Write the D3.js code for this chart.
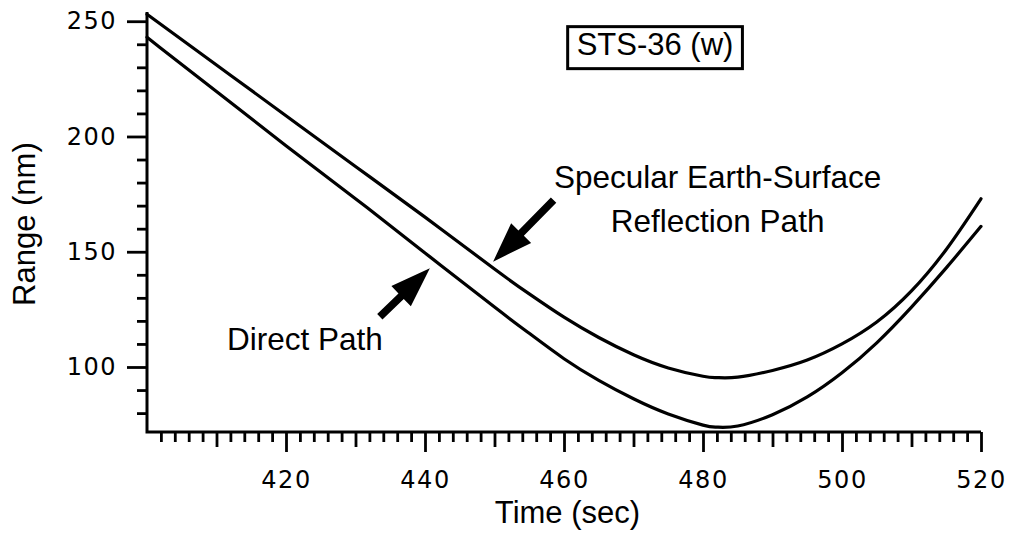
<!DOCTYPE html>
<html>
<head>
<meta charset="utf-8">
<script src="https://cdn.jsdelivr.net/npm/d3@7"></script>
<style>
  html, body { margin: 0; padding: 0; background: #fff; }
  svg { display: block; }
</style>
</head>
<body>
<svg id="chart" width="1013" height="535"></svg>
<script>
// ---- data ----
const times = [400, 410, 420, 430, 440, 450, 455, 460, 465, 470, 475, 480, 482, 485, 490, 495, 500, 505, 510, 515, 520];
const reflectionPath = [253, 231, 209, 187, 165, 142.5, 131.7, 121.6, 112.8, 105.3, 99.6, 96, 95.4, 95.6, 98.5, 103, 110, 119.5, 133, 151, 173];
const directPath = [243, 219.5, 196, 173, 149.5, 126, 114.6, 103.6, 94.2, 86.2, 79.6, 74.8, 73.9, 74.4, 79.3, 87, 97.5, 110.5, 126, 143, 161];

const xMajorTicks = [420, 440, 460, 480, 500, 520];
const xMidTicks = [410, 430, 450, 470, 490, 510];
const yMajorTicks = [100, 150, 200, 250];
const yMinorTicks = [80, 90, 110, 120, 130, 140, 160, 170, 180, 190, 210, 220, 230, 240];

const xTitle = "Time (sec)";
const yTitle = "Range (nm)";
const boxLabel = "STS-36 (w)";
const reflectionLabel = ["Specular Earth-Surface", "Reflection Path"];
const directLabel = "Direct Path";

// arrows in data coordinates: [tail, tip]
const reflectionArrow = [[458.5, 172.4], [449.8, 145.7]];
const directArrow = [[433.5, 121.8], [440.7, 142.8]];

// ---- drawing ----
const svg = d3.select("#chart");
const x = d3.scaleLinear().domain([400, 520]).range([147, 981]);
const y = d3.scaleLinear().domain([71.8, 254]).range([432, 12]);

const digitFont = "'DejaVu Sans', sans-serif";
const textFont = "'Liberation Sans', Arial, Helvetica, sans-serif";

// minor x ticks every 2 s
const xMinor = d3.range(402, 520, 2).filter(d => d % 10 !== 0);
const gx = svg.append("g").attr("transform", `translate(0,${y(71.8)})`);
gx.append("g").call(d3.axisBottom(x).tickValues(xMinor).tickSize(10).tickSizeOuter(0).tickFormat(""));
gx.append("g").call(d3.axisBottom(x).tickValues(xMidTicks).tickSize(15).tickSizeOuter(0).tickFormat(""));
gx.append("g").call(d3.axisBottom(x).tickValues(xMajorTicks).tickSize(20).tickSizeOuter(0).tickPadding(19).tickFormat(d3.format("d")));
gx.selectAll(".domain").remove();
gx.selectAll(".tick line").attr("stroke", "#000").attr("stroke-width", 2.8);
gx.selectAll(".tick text")
  .attr("font-family", digitFont).attr("font-size", 24).attr("fill", "#000")
  .attr("letter-spacing", "1.5px");

const gy = svg.append("g").attr("transform", `translate(${x(400)},0)`);
gy.append("g").call(d3.axisLeft(y).tickValues(yMinorTicks).tickSize(10).tickSizeOuter(0).tickFormat(""));
gy.append("g").call(d3.axisLeft(y).tickValues(yMajorTicks).tickSize(20).tickSizeOuter(0).tickPadding(10).tickFormat(d3.format("d")));
gy.selectAll(".domain").remove();
gy.selectAll(".tick line").attr("stroke", "#000").attr("stroke-width", 2.8);
gy.selectAll(".tick text")
  .attr("font-family", digitFont).attr("font-size", 24).attr("fill", "#000")
  .attr("letter-spacing", "1.5px");

// axis lines
svg.append("path")
  .attr("d", `M${x(400)},${y(254)}V${y(71.8)}H${x(520)}`)
  .attr("fill", "none").attr("stroke", "#000").attr("stroke-width", 3);

// curves
const line = d3.line().x((d, i) => x(times[i])).y(d => y(d)).curve(d3.curveNatural);
[reflectionPath, directPath].forEach(series => {
  svg.append("path").attr("d", line(series))
    .attr("fill", "none").attr("stroke", "#000").attr("stroke-width", 3.2)
    .attr("stroke-linejoin", "round").attr("stroke-linecap", "round");
});

// axis titles
svg.append("text").text(xTitle)
  .attr("x", x(460.5)).attr("y", 523)
  .attr("text-anchor", "middle").attr("font-family", textFont).attr("font-size", 31).attr("fill", "#000");
svg.append("text").text(yTitle)
  .attr("transform", `translate(35,${y(162)}) rotate(-90)`)
  .attr("text-anchor", "middle").attr("font-family", textFont).attr("font-size", 31).attr("fill", "#000");

// boxed label
const boxG = svg.append("g");
const bt = boxG.append("text").text(boxLabel)
  .attr("x", x(473.1)).attr("y", y(235.5))
  .attr("text-anchor", "middle").attr("font-family", textFont).attr("font-size", 31).attr("fill", "#000");
const bb = bt.node().getBBox();
boxG.insert("rect", "text")
  .attr("x", bb.x - 9).attr("y", bb.y).attr("width", bb.width + 18).attr("height", bb.height + 7)
  .attr("fill", "#fff").attr("stroke", "#000").attr("stroke-width", 3);

// annotation labels
svg.append("text").text(reflectionLabel[0])
  .attr("x", x(482.1)).attr("y", y(177.6))
  .attr("text-anchor", "middle").attr("font-family", textFont).attr("font-size", 31.5).attr("fill", "#000");
svg.append("text").text(reflectionLabel[1])
  .attr("x", x(482.1)).attr("y", y(158.6))
  .attr("text-anchor", "middle").attr("font-family", textFont).attr("font-size", 31.5).attr("fill", "#000");
svg.append("text").text(directLabel)
  .attr("x", x(411.5)).attr("y", y(107.4))
  .attr("text-anchor", "start").attr("font-family", textFont).attr("font-size", 31.5).attr("fill", "#000");

// arrows
function arrow(pts) {
  const [t0, t1] = pts;
  const x0 = x(t0[0]), y0 = y(t0[1]), x1 = x(t1[0]), y1 = y(t1[1]);
  const dx = x1 - x0, dy = y1 - y0, L = Math.hypot(dx, dy);
  const ux = dx / L, uy = dy / L, nx = -uy, ny = ux;
  const headL = 40, headW = 14, shaftW = 3.8;
  const bx = x1 - ux * headL, by = y1 - uy * headL;
  const p = [
    [x0 + nx * shaftW, y0 + ny * shaftW],
    [bx + nx * shaftW, by + ny * shaftW],
    [bx + nx * headW, by + ny * headW],
    [x1, y1],
    [bx - nx * headW, by - ny * headW],
    [bx - nx * shaftW, by - ny * shaftW],
    [x0 - nx * shaftW, y0 - ny * shaftW]
  ];
  svg.append("path").attr("d", "M" + p.map(q => q.join(",")).join("L") + "Z").attr("fill", "#000");
}
arrow(reflectionArrow);
arrow(directArrow);
</script>
</body>
</html>
